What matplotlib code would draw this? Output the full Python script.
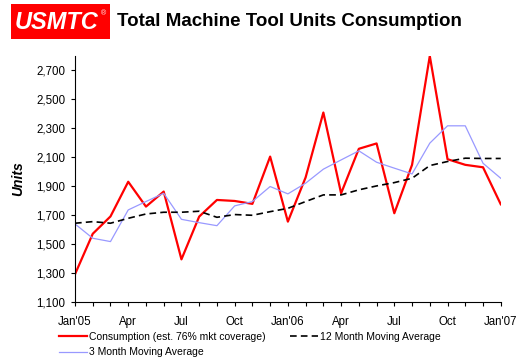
import matplotlib.pyplot as plt
import matplotlib.ticker as mticker
from matplotlib.patches import Rectangle

plt.rcParams['font.family'] = ['Liberation Sans', 'DejaVu Sans']

# monthly data, Jan'05 .. Jan'07
months = list(range(25))
tick_labels = ["Jan'05", "Apr", "Jul", "Oct", "Jan'06", "Apr", "Jul", "Oct", "Jan'07"]

consumption = [1290, 1570, 1690, 1930, 1758, 1862, 1393, 1689, 1804, 1797, 1777, 2104,
               1654, 1960, 2409, 1850, 2158, 2195, 1712, 2047, 2800, 2086, 2047, 2030, 1774]
ma3 = [1638, 1539, 1516, 1735, 1793, 1850, 1670, 1647, 1626, 1763, 1793, 1897,
       1846, 1920, 2017, 2081, 2144, 2065, 2024, 1984, 2197, 2317, 2317, 2058, 1954]
ma12 = [1643, 1654, 1643, 1677, 1707, 1719, 1719, 1726, 1684, 1703, 1698, 1723,
        1746, 1793, 1839, 1839, 1874, 1901, 1924, 1954, 2042, 2070, 2093, 2091, 2091]

fig = plt.figure(figsize=(5.26, 3.59), dpi=100)
ax = fig.add_axes([0.1426, 0.1596, 0.8094, 0.6844])

l1, = ax.plot(months, consumption, color='#FF0000', lw=1.6, label='Consumption (est. 76% mkt coverage)')
l3, = ax.plot(months, ma3, color='#9999FF', lw=0.9, label='3 Month Moving Average')
l2, = ax.plot(months, ma12, color='black', lw=1.2, ls=(0, (4, 2.5)), label='12 Month Moving Average')

ax.set_xlim(0, 24)
ax.set_ylim(1100, 2800)
ax.set_xticks(range(0, 25, 3))
ax.set_xticklabels(tick_labels)
ax.xaxis.set_minor_locator(mticker.MultipleLocator(1))
ax.set_yticks(range(1100, 2701, 200))
ax.yaxis.set_major_formatter(mticker.FuncFormatter(lambda v, p: '{:,.0f}'.format(v)))
ax.tick_params(axis='both', labelsize=8.3, length=3, width=0.8, direction='out')
ax.tick_params(axis='x', which='minor', length=3, width=0.8)
ax.tick_params(axis='x', pad=7)
ax.tick_params(axis='y', pad=4)
ax.spines['top'].set_visible(False)
ax.spines['right'].set_visible(False)
ax.spines['left'].set_linewidth(0.8)
ax.spines['bottom'].set_linewidth(0.8)
ax.set_ylabel('Units', fontsize=10, fontweight='bold', style='italic', labelpad=8)

fig.legend(handles=[l1, l3, l2], loc='upper left', bbox_to_anchor=(0.112, 0.076),
           ncol=2, frameon=False, fontsize=7.5, handlelength=2.7, handletextpad=0.2,
           columnspacing=2.3, labelspacing=0.55, borderaxespad=0, borderpad=0)

# logo box and title
fig.patches.append(Rectangle((0.021, 0.891), 0.188, 0.098, transform=fig.transFigure,
                             facecolor='#FF0000', edgecolor='none'))
fig.text(0.108, 0.938, 'USMTC', color='white', fontsize=17, fontweight='heavy',
         style='italic', ha='center', va='center')
fig.text(0.196, 0.962, '\u00ae', color='white', fontsize=5, ha='center', va='center')
fig.text(0.222, 0.94, 'Total Machine Tool Units Consumption', fontsize=13.5,
         fontweight='bold', ha='left', va='center')

fig.savefig('out.png', dpi=100)
